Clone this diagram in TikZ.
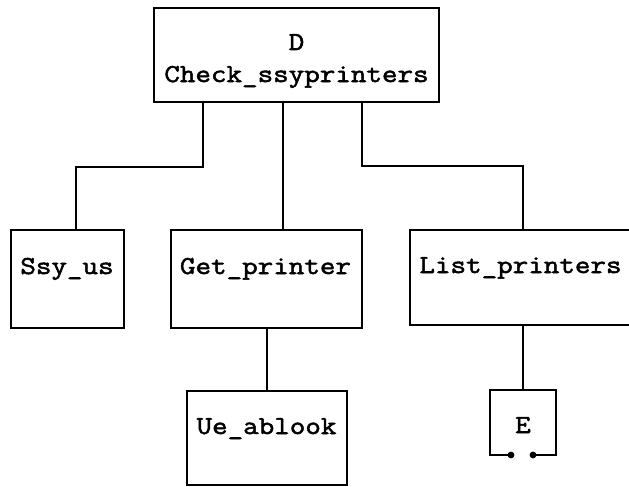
\documentclass[tikz,border=0pt]{standalone}
\usepackage{fontspec}
\usepackage{xcolor}
\usepackage{tikz}
\usetikzlibrary{arrows.meta}
\newfontfamily\chartfont[FakeStretch=1.17, FakeBold=2]{Latin Modern Mono}

\begin{document}
\begin{tikzpicture}[x=1pt, y=-1pt, line width=1.6pt,
    every node/.style={font=\chartfont\fontsize{25.8}{30}\selectfont, outer sep=0pt, inner sep=0pt},
    box/.style={draw, rectangle}]
    \useasboundingbox (0,0) rectangle (629,487);
    % boxes
    \node[box, minimum width=285pt, minimum height=94pt] (top) at (296.5,55) {};
    \node[box, minimum width=113pt, minimum height=98pt] (ssy) at (67.5,279) {};
    \node[box, minimum width=191pt, minimum height=98pt] (getp) at (266.5,279) {};
    \node[box, minimum width=222pt, minimum height=95pt] (listp) at (521,277.5) {};
    \node[box, minimum width=160pt, minimum height=94pt] (ueab) at (267,438) {};
    \node[minimum width=66pt, minimum height=65pt] (e) at (523,422.5) {};
    % texts
    \node[anchor=base] (topa) at (296.5,50) {D};
    \node[anchor=base] (topb) at (296.5,82) {Check\_ssyprinters};
    \node[anchor=base] (ssyt) at (67,274) {Ssy\_us};
    \node[anchor=base] (getpt) at (265.5,274) {Get\_printer};
    \node[anchor=base] (listpt) at (520.5,273) {List\_printers};
    \node[anchor=base] (ueabt) at (266.5,434) {Ue\_ablook};
    \node[anchor=base] (et) at (523,433) {E};
    % connectors
    \draw ([xshift=-93.5pt]top.south) -- ++(0,65) -| ([xshift=8.5pt]ssy.north);
    \draw ([xshift=-13.5pt]top.south) -- ([xshift=16.5pt]getp.north);
    \draw ([xshift=65.5pt]top.south) -- ++(0,64) -| ([xshift=2pt]listp.north);
    \draw (getp.south -| ueab.north) -- (ueab.north);
    \draw (listp.south -| e.north) -- (e.north);
    \draw ([xshift=21pt]e.south west) -- (e.south west) -- (e.north west)
      -- (e.north east) -- (e.south east) -- ([xshift=-23pt]e.south east);
    \fill ([xshift=21pt]e.south west) circle (3.4pt) ([xshift=-23pt]e.south east) circle (3.4pt);
  \end{tikzpicture}
\end{document}
